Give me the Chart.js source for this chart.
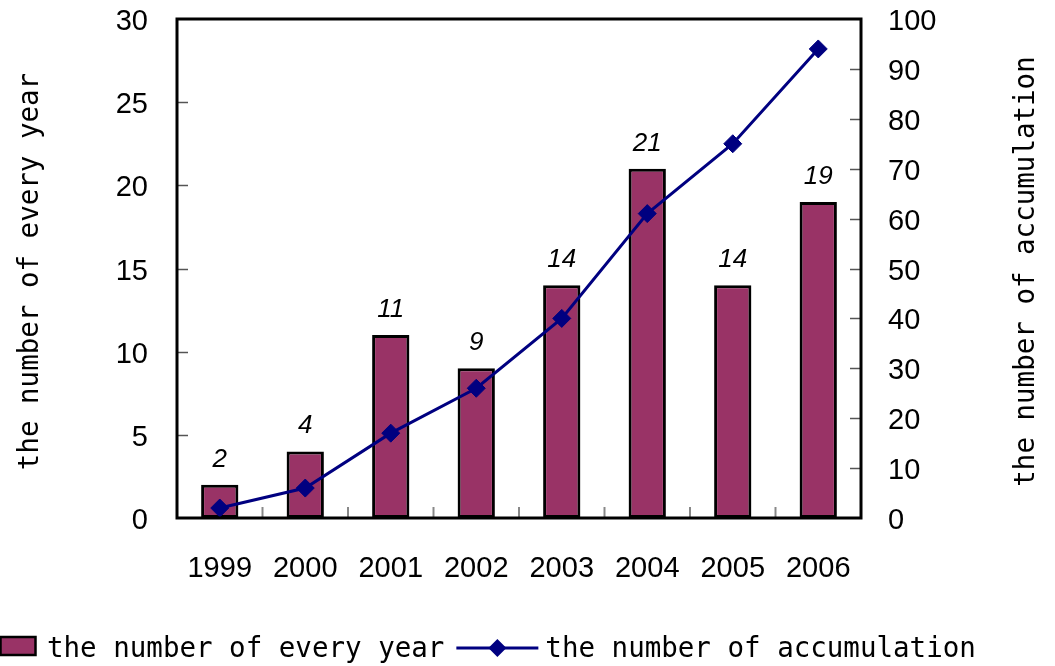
<!DOCTYPE html>
<html><head><meta charset="utf-8">
<script src="https://cdn.jsdelivr.net/npm/chart.js@4.4.1/dist/chart.umd.min.js"></script>
<style>html,body{margin:0;padding:0;background:#fff;}#wrap{width:1055px;height:666px;position:relative;}</style>
</head><body><div id="wrap"><canvas id="c" width="1055" height="666"></canvas></div>
<script>
const categories = ['1999','2000','2001','2002','2003','2004','2005','2006'];
const yearlyCounts = [2,4,11,9,14,21,14,19];
const accumulatedCounts = [2,6,17,26,40,61,75,94];
const leftAxisMax = 30, leftAxisStep = 5;
const rightAxisMax = 100, rightAxisStep = 10;
const seriesNames = ['the number of every year','the number of accumulation'];
const leftTitle = 'the number of every year';
const rightTitle = 'the number of accumulation';

const BAR_COLOR = '#993366';
const LINE_COLOR = '#000080';
const MONO = '"DejaVu Sans Mono", "Liberation Mono", monospace';
const SANS = '"Liberation Sans", Arial, sans-serif';

const decorPlugin = {
  id: 'decor',
  beforeDatasetsDraw(chart) {
    const ctx = chart.ctx, a = chart.chartArea;
    const y = chart.scales.y, y1 = chart.scales.y1, x = chart.scales.x;
    ctx.save();
    ctx.strokeStyle = '#555'; ctx.lineWidth = 1.5;
    for (let v = leftAxisStep; v < leftAxisMax; v += leftAxisStep) {
      const p = Math.round(y.getPixelForValue(v)) + 0.5;
      ctx.beginPath(); ctx.moveTo(a.left, p); ctx.lineTo(a.left + 11, p); ctx.stroke();
    }
    for (let v = rightAxisStep; v < rightAxisMax; v += rightAxisStep) {
      const p = Math.round(y1.getPixelForValue(v)) + 0.5;
      ctx.beginPath(); ctx.moveTo(a.right - 11, p); ctx.lineTo(a.right, p); ctx.stroke();
    }
    ctx.strokeStyle = '#888'; ctx.lineWidth = 2;
    for (let i = 1; i < categories.length; i++) {
      const p = (x.getPixelForValue(i - 1) + x.getPixelForValue(i)) / 2;
      ctx.beginPath(); ctx.moveTo(p, a.bottom); ctx.lineTo(p, a.bottom - 11); ctx.stroke();
    }
    ctx.restore();
  },
  afterDatasetsDraw(chart) {
    const ctx = chart.ctx, a = chart.chartArea;
    ctx.save();
    ctx.strokeStyle = '#000'; ctx.lineWidth = 3;
    ctx.strokeRect(a.left, a.top, a.right - a.left, a.bottom - a.top);
    const meta = chart.getDatasetMeta(0);
    ctx.fillStyle = '#000';
    ctx.font = 'italic 26px ' + SANS;
    ctx.textAlign = 'center'; ctx.textBaseline = 'alphabetic';
    meta.data.forEach((el, i) => {
      ctx.fillText(String(yearlyCounts[i]), el.x, el.y - 18);
    });
    ctx.font = '27.5px ' + MONO;
    ctx.save(); ctx.translate(38, (a.top + a.bottom) / 2 + 3); ctx.rotate(-Math.PI / 2);
    ctx.fillText(leftTitle, 0, 0); ctx.restore();
    ctx.save(); ctx.translate(1034, (a.top + a.bottom) / 2 + 3); ctx.rotate(-Math.PI / 2);
    ctx.fillText(rightTitle, 0, 0); ctx.restore();
    ctx.textAlign = 'left';
    ctx.fillStyle = BAR_COLOR; ctx.strokeStyle = '#000'; ctx.lineWidth = 2.5;
    ctx.fillRect(0.5, 637, 35, 18); ctx.strokeRect(0.5, 637, 35, 18);
    ctx.fillStyle = '#000';
    const t1x = 47;
    ctx.fillText(seriesNames[0], t1x, 657);
    const t1end = t1x + ctx.measureText(seriesNames[0]).width;
    const ls = t1end + 12, le = ls + 82, ly = 648;
    ctx.strokeStyle = LINE_COLOR; ctx.lineWidth = 3;
    ctx.beginPath(); ctx.moveTo(ls, ly); ctx.lineTo(le, ly); ctx.stroke();
    const dc = (ls + le) / 2;
    ctx.fillStyle = LINE_COLOR;
    ctx.beginPath(); ctx.moveTo(dc, ly - 9); ctx.lineTo(dc + 9, ly); ctx.lineTo(dc, ly + 9); ctx.lineTo(dc - 9, ly); ctx.closePath(); ctx.fill();
    ctx.fillStyle = '#000';
    ctx.fillText(seriesNames[1], le + 7, 657);
    ctx.restore();
  }
};

new Chart(document.getElementById('c'), {
  data: {
    labels: categories,
    datasets: [
      {
        type: 'bar', label: seriesNames[0], data: yearlyCounts, yAxisID: 'y', order: 2,
        backgroundColor: BAR_COLOR, borderColor: '#000', borderWidth: 3, borderSkipped: false,
        barPercentage: 0.436, categoryPercentage: 1
      },
      {
        type: 'line', label: seriesNames[1], data: accumulatedCounts, yAxisID: 'y1', order: 1,
        borderColor: LINE_COLOR, borderWidth: 3, backgroundColor: LINE_COLOR,
        pointStyle: 'rectRot', pointRadius: 9, pointBorderWidth: 1, pointBorderColor: LINE_COLOR,
        pointBackgroundColor: LINE_COLOR, tension: 0, fill: false
      }
    ]
  },
  options: {
    responsive: false, animation: false, devicePixelRatio: 1,
    layout: { padding: { top: 19, left: 0, right: 0, bottom: 0 } },
    plugins: { legend: { display: false }, tooltip: { enabled: false } },
    scales: {
      x: {
        type: 'category', offset: true,
        grid: { display: false, drawTicks: false }, border: { display: false },
        ticks: { color: '#000', font: { family: SANS, size: 29 }, padding: 34, maxRotation: 0, autoSkip: false },
        afterFit(s) { s.height = 148; s.paddingLeft = 0; s.paddingRight = 0; }
      },
      y: {
        position: 'left', min: 0, max: leftAxisMax,
        grid: { display: false, drawTicks: false }, border: { display: false },
        ticks: { stepSize: leftAxisStep, color: '#000', font: { family: SANS, size: 29 }, padding: 29, labelOffset: 3 },
        afterFit(s) { s.width = 177; s.paddingTop = 0; s.paddingBottom = 0; }
      },
      y1: {
        position: 'right', min: 0, max: rightAxisMax,
        grid: { display: false, drawTicks: false }, border: { display: false },
        ticks: { stepSize: rightAxisStep, color: '#000', font: { family: SANS, size: 29 }, padding: 27, labelOffset: 3 },
        afterFit(s) { s.width = 194; s.paddingTop = 0; s.paddingBottom = 0; }
      }
    }
  },
  plugins: [decorPlugin]
});
</script></body></html>
